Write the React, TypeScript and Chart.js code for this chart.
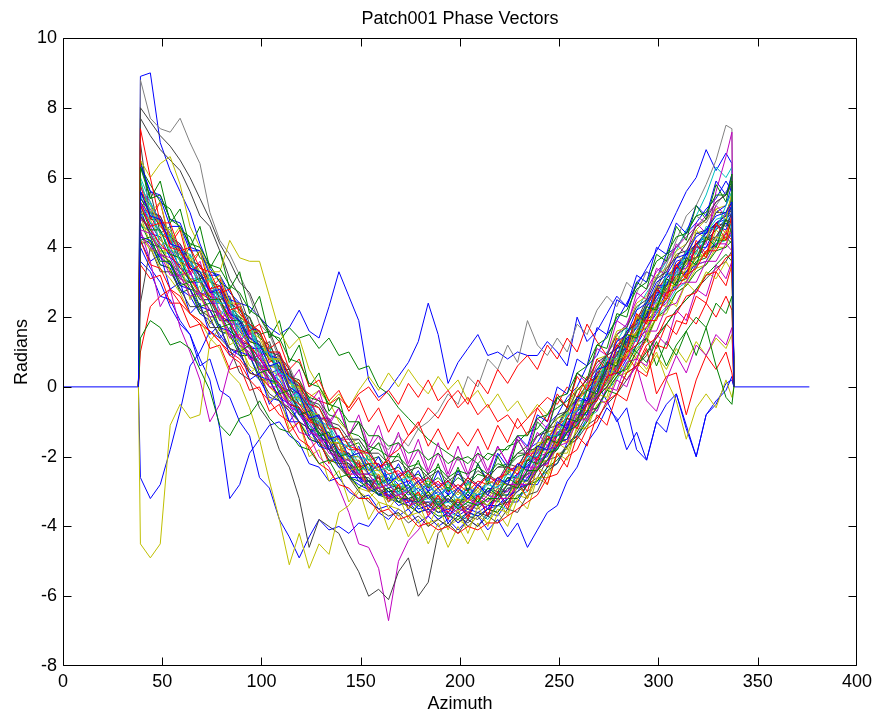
import React, { useEffect, useRef } from "react";
import { Chart, registerables } from "chart.js";

Chart.register(...registerables);

const TITLE = "Patch001 Phase Vectors";
const X_LABEL = "Azimuth";
const Y_LABEL = "Radians";
const X_TICKS = [0, 50, 100, 150, 200, 250, 300, 350, 400];
const Y_TICKS = [-8, -6, -4, -2, 0, 2, 4, 6, 8, 10];

// azimuth samples of the phase vectors
const AZ = [39, 44, 49, 54, 59, 64, 69, 74, 79, 84, 89, 94, 99, 104, 109, 114, 119, 124, 129, 134,
  139, 144, 149, 154, 159, 164, 169, 174, 179, 184, 189, 194, 199, 204, 209, 214, 219, 224, 229, 234,
  239, 244, 249, 254, 259, 264, 269, 274, 279, 284, 289, 294, 299, 304, 309, 314, 319, 324, 329, 334, 337];
// zero values just outside the patch, and the zero line of the full azimuth range
const EDGE_AZ = [38, 338];
const ZERO_LINE_AZ = [0, 376];
const PAD_VALUE = 0;

const B1 = [5.6,4.9,4.8,4.1,4.0,3.4,3.3,2.7,2.8,2.1, 1.9,1.4,1.2,0.6,0.7,0.0,-0.2,-0.9,-0.8,-1.5, -1.4,-2.0,-1.9,-2.5,-2.2,-2.8,-2.5,-3.0,-2.7,-3.2, -2.9,-3.3,-2.9,-3.2,-2.8,-3.1,-2.6,-2.8,-2.2,-2.4, -1.7,-1.8,-1.0,-1.2,-0.3,-0.4,0.5,0.6,1.3,1.5, 2.2,2.4,3.0,3.2,3.7,3.8,4.3,4.5,4.9,5.0, 5.3];
const B2 = [4.2,4.3,3.6,3.6,2.9,3.0,2.3,2.4,1.7,1.8, 1.0,1.2,0.4,0.5,-0.2,-0.1,-0.8,-0.7,-1.4,-1.3, -2.0,-1.9,-2.4,-2.2,-2.8,-2.6,-3.0,-2.8,-3.3,-3.0, -3.4,-3.1,-3.4,-3.0,-3.3,-2.9,-3.1,-2.6,-2.8,-2.1, -2.2,-1.5,-1.6,-0.9,-1.0,-0.1,-0.2,0.7,0.6,1.5, 1.4,2.3,2.2,3.1,2.9,3.7,3.5,4.3,4.0,4.8, 4.4];
const B3 = [7.4,6.0,4.7,4.7,3.9,4.0,3.4,3.3,2.7,2.8, 2.1,1.8,1.6,1.0,1.0,0.3,0.1,-0.5,-0.6,-1.2, -1.2,-1.7,-1.8,-1.9,-2.3,-2.1,-2.6,-2.4,-2.8,-2.6, -2.9,-2.7,-3.0,-2.6,-2.9,-2.5,-2.8,-2.3,-2.5,-1.9, -2.1,-1.4,-1.7,-0.9,-1.2,-0.5,-0.4,0.3,0.4,1.0, 1.2,1.9,1.9,2.7,2.8,3.2,3.4,3.9,3.9,4.4, 4.2];
const B4 = [5.9,5.0,4.4,4.3,3.6,3.6,3.0,3.1,2.4,2.4, 1.7,1.8,1.0,1.0,0.4,0.3,-0.3,-0.5,-1.0,-1.1, -1.6,-1.7,-2.0,-2.1,-2.4,-2.3,-2.7,-2.6,-3.0,-2.8, -3.1,-2.9,-3.2,-3.0,-3.1,-2.8,-2.9,-2.5,-2.6,-2.0, -2.0,-1.4,-1.4,-0.8,-0.7,-0.1,0.1,0.8,0.8,1.6, 1.7,2.4,2.4,3.2,3.2,3.9,3.8,4.6,4.5,5.2, 5.6];
const B5 = [4.5,4.4,3.8,3.7,3.1,2.9,2.6,2.2,2.1,1.5, 1.4,0.8,0.7,0.0,0.0,-0.6,-0.7,-1.3,-1.4,-1.9, -2.0,-2.5,-2.5,-2.9,-2.9,-3.2,-3.1,-3.4,-3.3,-3.6, -3.4,-3.7,-3.5,-3.6,-3.3,-3.5,-3.2,-3.2,-2.8,-2.8, -2.3,-2.2,-1.7,-1.6,-1.0,-0.9,-0.2,0.0,0.6,0.8, 1.4,1.6,2.2,2.4,2.9,3.0,3.5,3.6,4.1,4.1, 4.5];
const B6 = [5.5,5.2,4.6,4.5,3.8,3.7,3.3,3.0,2.8,2.3, 2.1,1.6,1.4,0.8,0.8,0.1,0.0,-0.7,-0.8,-1.4, -1.5,-2.0,-1.9,-2.4,-2.3,-2.8,-2.6,-3.0,-2.7,-3.1, -2.9,-3.3,-3.0,-3.3,-2.9,-3.1,-2.7,-2.8,-2.3,-2.4, -1.8,-1.9,-1.2,-1.3,-0.6,-0.7,0.1,0.1,0.8,0.9, 1.6,1.7,2.4,2.5,3.1,3.2,3.7,3.8,4.3,4.2, 4.6];
const B7 = [2.4,4.0,3.3,3.3,2.8,2.3,2.3,1.7,1.7,1.1, 1.0,0.4,0.3,-0.2,-0.4,-0.7,-1.0,-1.2,-1.6,-1.8, -2.2,-2.2,-2.6,-2.6,-3.0,-2.9,-3.2,-3.2,-3.4,-3.3, -3.6,-3.4,-3.6,-3.4,-3.5,-3.2,-3.3,-2.9,-2.9,-2.4, -2.4,-1.8,-1.7,-1.1,-1.0,-0.4,-0.2,0.5,0.6,1.3, 1.5,2.1,2.3,2.9,3.1,3.6,3.7,4.2,4.3,4.8, 4.7];
const B8 = [6.4,5.6,5.4,4.6,4.6,3.9,3.9,3.2,3.2,2.5, 2.4,1.7,1.6,0.9,0.8,0.2,0.0,-0.6,-0.9,-1.4, -1.9,-2.3,-2.6,-2.8,-3.1,-3.1,-3.4,-3.3,-3.6,-3.5, -3.8,-3.6,-3.9,-3.6,-3.7,-3.5,-3.4,-3.2,-2.9,-2.8, -2.3,-2.2,-1.6,-1.5,-0.8,-0.8,0.1,0.1,1.0,1.1, 1.9,2.0,2.9,2.9,3.6,3.7,4.4,4.4,5.0,5.2, 5.8];
const B9 = [5.2,4.5,4.5,3.8,3.7,3.0,3.1,2.5,2.5,1.9, 1.9,1.3,1.2,0.8,0.6,0.3,0.1,-0.3,-0.4,-0.8, -0.9,-1.3,-1.4,-1.7,-1.8,-2.0,-2.0,-2.3,-2.2,-2.5, -2.3,-2.6,-2.4,-2.5,-2.3,-2.5,-2.2,-2.3,-2.0,-1.9, -1.7,-1.5,-1.4,-1.2,-1.0,-0.7,-0.6,-0.1,-0.2,0.4, 0.6,1.0,1.4,1.8,2.2,2.5,2.8,3.2,3.5,3.8, 3.6];
const B10 = [1.0,2.3,2.6,2.8,2.4,2.1,1.8,1.6,1.3,1.0, 0.8,0.4,0.3,0.0,-0.2,-0.5,-0.6,-1.0,-1.1,-1.4, -1.5,-1.8,-1.8,-2.2,-2.2,-2.5,-2.4,-2.7,-2.6,-2.9, -2.7,-3.0,-2.8,-3.0,-2.7,-2.8,-2.6,-2.5,-2.2,-2.1, -1.7,-1.5,-1.1,-0.9,-0.4,-0.1,0.4,0.7,1.2,1.5, 2.0,2.3,2.8,3.1,3.5,3.8,4.1,4.4,4.7,4.9, 5.3];
const B11 = [6.0,5.3,4.7,4.5,3.9,3.8,3.3,3.2,2.6,2.5, 1.9,1.8,1.1,1.1,0.4,0.3,-0.4,-0.5,-1.2,-1.3, -1.9,-2.0,-2.4,-2.3,-2.8,-2.7,-3.1,-2.9,-3.3,-3.2, -3.4,-3.3,-3.5,-3.3,-3.4,-3.1,-3.3,-2.9,-2.9,-2.4, -2.4,-1.8,-1.8,-1.2,-1.1,-0.5,-0.3,0.5,0.4,1.3, 1.3,2.2,2.2,3.0,3.3,3.8,4.0,4.4,4.8,4.9, 5.4];
const B12 = [4.8,4.6,4.0,3.9,3.2,3.3,2.6,2.8,1.9,2.2, 1.3,1.6,0.9,1.0,0.3,0.4,-0.3,-0.4,-0.9,-0.9, -1.5,-1.5,-1.9,-1.9,-2.3,-2.2,-2.5,-2.4,-2.7,-2.6, -2.8,-2.7,-2.9,-2.7,-2.8,-2.6,-2.7,-2.3,-2.4,-1.9, -1.9,-1.4,-1.6,-1.0,-1.2,-0.5,-0.7,0.0,-0.1,0.7, 0.8,1.6,1.6,2.3,2.4,3.0,3.0,3.6,3.6,4.1, 3.9];
const B13 = [5.0,4.8,4.2,4.0,3.6,3.1,3.0,2.5,2.4,1.9, 1.7,1.1,1.0,0.5,0.3,-0.3,-0.3,-1.0,-1.0,-1.6, -1.6,-2.1,-2.1,-2.5,-2.5,-2.8,-2.8,-3.0,-3.1,-3.2, -3.1,-3.3,-3.2,-3.3,-3.0,-3.2,-2.8,-2.8,-2.3,-2.4, -1.6,-1.6,-0.9,-0.8,-0.1,0.1,0.8,0.9,1.6,1.7, 2.4,2.6,3.2,3.4,3.9,4.1,4.5,4.8,5.1,5.2, 5.6];
const B14 = [7.0,4.8,4.8,4.1,3.9,3.4,3.3,2.7,2.7,2.1, 2.0,1.4,1.3,0.6,0.6,-0.1,-0.2,-0.9,-1.0,-1.6, -1.6,-2.1,-2.2,-2.5,-2.6,-2.8,-2.9,-3.0,-3.2,-3.1, -3.3,-3.2,-3.4,-3.2,-3.3,-3.0,-3.1,-2.8,-2.8,-2.5, -2.4,-2.1,-2.0,-1.7,-1.5,-1.1,-0.9,-0.5,-0.2,0.2, 0.6,0.9,1.5,1.8,2.2,2.5,2.8,3.1,3.4,3.6, 3.9];
const B15 = [5.0,4.4,4.3,3.7,3.5,3.0,3.0,2.4,2.4,1.8, 1.8,1.1,1.1,0.4,0.5,-0.3,-0.3,-0.9,-0.9,-1.5, -1.5,-2.0,-2.0,-2.4,-2.3,-2.7,-2.6,-2.9,-2.7,-3.0, -2.8,-3.1,-2.9,-3.1,-2.8,-3.0,-2.7,-2.7,-2.3,-2.3, -1.8,-1.8,-1.3,-1.2,-0.7,-0.5,-0.1,0.4,0.6,1.2, 1.4,1.9,2.2,2.7,2.9,3.3,3.5,3.9,4.1,4.4, 4.3];
const B16 = [4.1,4.2,3.5,3.4,2.7,2.8,2.1,2.2,1.6,1.5, 0.9,0.9,0.2,0.2,-0.4,-0.6,-1.0,-1.5,-1.6,-2.1, -2.2,-2.6,-2.7,-2.9,-3.1,-3.2,-3.3,-3.4,-3.6,-3.5, -3.7,-3.7,-3.8,-3.6,-3.7,-3.5,-3.6,-3.2,-3.2,-2.8, -2.7,-2.3,-2.1,-1.7,-1.4,-1.0,-0.6,-0.1,0.3,0.6, 1.2,1.4,2.0,2.2,2.7,2.9,3.3,3.5,3.9,4.0, 4.2];
const B17 = [5.3,4.9,4.4,4.2,3.6,3.4,3.0,2.6,2.5,2.0, 1.9,1.3,1.2,0.8,0.5,0.2,0.0,-0.2,-0.4,-0.5, -0.3,-0.6,-0.2,0.0,-0.4,-0.1,-0.5,0.1,-0.3,0.2, -0.4,-0.1,-0.6,-0.3,-0.8,-0.5,-1.0,-0.8,-1.2,-0.9, -0.6,-0.3,-0.5,0.0,-0.3,0.3,0.1,0.7,0.4,1.1, 0.8,1.4,1.1,1.8,1.5,2.1,1.8,2.4,2.0,2.6, 2.2];
const B18 = [4.7,4.4,3.9,3.9,3.3,3.1,2.6,2.7,2.0,2.1, 1.5,1.4,1.0,0.6,0.5,0.1,0.2,-0.3,-0.1,-0.5, -0.2,-0.6,-0.1,0.3,-0.1,0.4,0.0,0.5,0.1,-0.2, 0.3,-0.1,0.2,-0.4,-0.1,-0.6,-0.2,-0.7,-0.4,-0.9, -0.5,-0.8,-0.3,-0.6,0.0,-0.3,0.3,0.0,0.5,0.2, 0.7,0.4,0.9,0.5,1.1,0.7,1.3,0.9,1.4,1.1, 1.5];
const B19 = [5.4,5.0,4.6,4.3,3.9,3.5,3.2,2.8,2.6,2.3, 2.0,1.8,1.5,1.6,1.3,1.7,1.4,1.5,1.1,1.4, 0.9,1.0,0.5,0.6,0.0,-0.2,-0.6,-0.9,-1.2,-1.5, -1.7,-1.9,-2.1,-2.0,-2.2,-1.9,-2.0,-1.7,-1.6,-1.3, -1.2,-0.8,-0.6,-0.4,-0.1,0.2,0.5,0.9,1.1,1.5, 1.9,2.1,2.6,2.8,3.2,3.3,3.7,3.8,4.1,4.3, 4.1];
const B20 = [5.4,5.1,4.6,4.3,3.9,3.4,3.2,2.7,2.5,2.0, 1.7,1.1,0.9,0.4,0.0,-0.4,-0.7,-1.2,-1.5,-1.8, -2.1,-2.3,-2.5,-2.8,-2.9,-3.1,-3.1,-3.3,-3.2,-3.4, -3.3,-3.5,-3.4,-3.5,-3.3,-3.4,-3.1,-3.0,-2.7,-2.5, -2.0,-1.7,-1.2,-0.9,-0.3,0.0,0.6,0.9,1.5,1.8, 2.5,2.8,3.3,3.6,4.0,4.3,4.6,4.9,5.3,5.5, 6.0];
const B21 = [5.5,4.7,4.5,3.9,3.8,3.1,3.1,2.6,2.4,2.2, 1.6,1.6,1.0,0.9,0.3,0.2,-0.5,-0.5,-1.1,-1.2, -1.8,-1.7,-2.2,-2.2,-2.6,-2.5,-2.9,-2.8,-3.1,-3.0, -3.3,-3.1,-3.4,-3.1,-3.3,-2.9,-3.0,-2.6,-2.6,-2.1, -1.9,-1.4,-1.2,-0.7,-0.4,0.1,0.4,1.0,1.3,1.8, 2.2,2.7,3.1,3.6,3.9,4.5,4.9,5.5,6.3,6.0, 6.3];
const B22 = [4.4,3.9,3.9,3.3,3.2,2.6,2.6,2.0,2.0,1.4, 1.2,0.6,0.4,0.0,-0.3,-0.7,-1.0,-1.4,-1.6,-2.0, -2.3,-2.6,-2.9,-3.0,-3.3,-3.4,-3.5,-3.7,-3.6,-3.9, -3.8,-4.0,-3.8,-4.0,-3.7,-3.9,-3.5,-3.6,-3.1,-3.2, -2.6,-2.6,-1.9,-1.9,-1.2,-1.2,-0.5,-0.4,0.3,0.4, 1.1,1.3,2.0,2.1,2.7,2.9,3.4,3.5,4.0,4.0, 4.6];
const B23 = [5.1,4.3,4.0,3.5,3.1,3.0,2.5,2.5,1.9,1.9, 1.3,1.2,0.6,0.5,0.0,-0.2,-0.6,-0.9,-1.4,-1.6, -2.1,-2.2,-2.6,-2.7,-3.0,-3.1,-3.3,-3.4,-3.6,-3.5, -3.8,-3.6,-3.9,-3.7,-3.8,-3.5,-3.6,-3.2,-3.2,-2.8, -2.6,-2.1,-1.8,-1.3,-1.0,-0.5,-0.2,0.4,0.6,1.2, 1.5,2.0,2.3,2.8,3.2,3.5,3.9,4.2,4.5,4.8, 5.1];
const B24 = [4.6,4.5,3.9,3.8,3.2,3.0,2.5,2.5,2.0,1.8, 1.3,1.1,0.6,0.3,-0.1,-0.3,-0.8,-1.1,-1.5,-1.8, -2.1,-2.3,-2.6,-2.7,-3.0,-3.0,-3.3,-3.2,-3.5,-3.4, -3.6,-3.6,-3.7,-3.8,-3.6,-3.8,-3.4,-3.5,-3.1,-3.0, -2.7,-2.4,-2.2,-1.7,-1.5,-0.9,-0.7,-0.1,0.2,0.7, 1.1,1.5,2.0,2.3,2.8,3.0,3.5,3.6,4.1,4.2, 4.4];

const N1 = [6.3,5.4,5.5,4.8,4.6,4.1,4.0,3.5,3.4,2.9, 2.7,2.2,2.0,1.5,1.4,0.8,0.7,0.1,0.0,-0.5, -0.6,-1.0,-1.0,-1.4,-1.4,-1.7,-1.6,-1.9,-1.8,-2.1, -1.9,-2.2,-2.0,-2.2,-1.9,-2.1,-1.8,-1.8,-1.4,-1.4, -0.9,-0.8,-0.3,-0.2,0.4,0.6,1.2,1.4,2.0,2.2, 2.8,3.0,3.6,3.8,4.3,4.4,4.9,5.0,5.5,5.5, 5.9];
const N2 = [4.2,3.5,3.4,2.8,2.6,2.1,1.9,1.6,1.3,0.9, 0.7,0.2,-0.1,-0.4,-0.8,-1.0,-1.5,-1.7,-2.2,-2.4, -2.8,-2.9,-3.2,-3.2,-3.6,-3.5,-3.8,-3.7,-4.0,-3.9, -4.1,-4.0,-4.2,-4.0,-4.1,-3.9,-3.9,-3.7,-3.5,-3.3, -3.1,-2.6,-2.5,-2.0,-1.8,-1.2,-1.0,-0.4,-0.2,0.4, 0.6,1.2,1.4,2.0,2.1,2.6,2.7,3.2,3.3,3.7, 3.8];
const N3 = [5.2,4.6,4.7,4.0,3.9,3.3,3.5,2.8,2.9,2.2, 2.3,1.6,1.8,1.1,1.3,0.5,0.8,0.0,0.2,-0.4, -0.1,-0.7,-0.3,-1.0,-0.6,-1.3,-0.8,-1.4,-1.0,-1.7, -1.2,-1.8,-1.3,-1.7,-1.2,-1.8,-1.1,-1.6,-0.9,-1.4, -0.6,-1.0,-0.2,-0.6,0.3,-0.1,0.8,0.5,1.4,1.1, 2.1,1.8,2.8,2.5,3.5,3.1,4.1,3.7,4.7,4.2, 4.9];
const N4 = [4.4,4.0,3.8,3.2,3.2,2.6,2.7,2.0,2.1,1.4, 1.5,0.8,0.9,0.2,0.4,-0.3,-0.1,-0.7,-0.3,-1.1, -0.6,-1.4,-0.8,-1.7,-1.1,-2.0,-1.3,-2.2,-1.5,-2.4, -1.6,-2.5,-1.7,-2.5,-1.7,-2.4,-1.7,-2.2,-1.5,-2.0, -1.3,-1.7,-1.1,-1.4,-0.7,-1.0,-0.3,-0.5,0.2,0.0, 0.8,0.6,1.5,1.2,2.2,1.9,2.8,2.6,3.5,3.1, 3.6];
const N5 = [5.9,5.0,5.3,4.2,4.6,3.6,3.9,3.0,3.2,2.4, 2.4,1.6,1.6,0.8,0.8,0.0,0.0,-0.8,-0.8,-1.6, -1.6,-2.4,-2.3,-3.0,-2.8,-3.5,-3.1,-3.8,-3.3,-4.0, -3.4,-4.1,-3.5,-4.2,-3.4,-4.0,-3.2,-3.7,-2.8,-3.2, -2.3,-2.5,-1.6,-1.8,-0.8,-1.0,0.1,-0.1,1.0,0.8, 2.0,1.8,2.9,2.7,3.8,3.5,4.5,4.2,5.1,4.8, 5.6];
const N6 = [5.6,5.0,4.9,4.3,4.1,3.6,3.5,3.0,2.9,2.4, 2.2,1.7,1.5,1.0,0.9,0.3,0.2,-0.4,-0.5,-1.0, -1.1,-1.5,-1.5,-1.9,-1.9,-2.2,-2.1,-2.4,-2.3,-2.6, -2.4,-2.7,-2.5,-2.7,-2.4,-2.6,-2.3,-2.3,-1.9,-1.9, -1.4,-1.3,-0.8,-0.7,-0.1,0.2,0.7,0.9,1.5,1.7, 2.3,2.5,3.1,3.3,3.8,3.9,4.4,4.5,5.0,5.0, 5.4];
const N7 = [4.3,4.2,3.7,3.5,2.9,2.8,2.3,2.2,1.7,1.6, 1.0,0.9,0.3,0.2,-0.3,-0.5,-1.0,-1.2,-1.7,-1.8, -2.3,-2.3,-2.7,-2.7,-3.1,-3.0,-3.3,-3.2,-3.5,-3.4, -3.6,-3.5,-3.7,-3.5,-3.6,-3.4,-3.4,-3.1,-3.0,-2.6, -2.4,-1.9,-1.7,-1.2,-0.9,-0.4,-0.1,0.5,0.8,1.4, 1.7,2.3,2.6,3.1,3.4,3.8,4.1,4.4,4.7,4.9, 5.2];
const N8 = [6.5,5.4,5.9,4.7,5.1,4.0,4.6,3.4,3.9,2.8, 3.3,2.1,2.6,1.4,1.9,0.7,1.2,0.0,0.4,-0.7, -0.3,-1.4,-1.0,-1.9,-1.6,-2.3,-1.9,-2.6,-2.1,-2.9, -2.2,-3.0,-2.3,-3.0,-2.2,-2.8,-2.0,-2.5,-1.5,-2.0, -1.0,-1.3,-0.3,-0.6,0.4,0.2,1.2,1.1,2.1,2.0, 3.0,2.8,3.8,3.6,4.6,4.2,5.2,4.8,5.8,5.3, 6.1];
const N9 = [3.5,3.1,3.2,2.4,2.4,1.7,1.8,1.1,1.2,0.5, 0.6,-0.1,0.0,-0.7,-0.5,-1.3,-1.0,-1.8,-1.5,-2.2, -1.9,-2.6,-2.2,-2.9,-2.6,-3.2,-2.8,-3.3,-3.0,-3.5, -3.1,-3.6,-3.2,-3.7,-3.1,-3.7,-3.0,-3.5,-2.7,-3.2, -2.3,-2.8,-1.9,-2.3,-1.4,-1.7,-0.8,-1.1,-0.2,-0.4, 0.5,0.3,1.2,1.1,1.9,1.8,2.6,2.4,3.3,2.9, 3.5];
const N10 = [4.8,5.3,4.0,4.4,3.2,3.8,2.6,3.2,2.0,2.5, 1.3,1.8,0.6,1.2,0.0,0.4,-0.8,-0.3,-1.5,-1.0, -2.1,-1.6,-2.5,-1.9,-2.9,-2.2,-3.1,-2.4,-3.3,-2.6, -3.4,-2.7,-3.5,-2.7,-3.4,-2.6,-3.3,-2.3,-2.9,-1.9, -2.4,-1.3,-1.8,-0.7,-1.1,0.1,-0.3,0.9,0.5,1.7, 1.3,2.5,2.1,3.3,2.8,3.9,3.4,4.5,4.0,5.0, 4.5];
const N11 = [5.3,4.6,4.9,4.0,4.1,3.2,3.6,2.7,2.9,2.0, 2.4,1.4,1.6,0.8,1.0,0.1,0.5,-0.5,-0.1,-1.0, -0.6,-1.4,-1.0,-1.8,-1.4,-2.1,-1.6,-2.3,-1.8,-2.5, -1.9,-2.6,-2.0,-2.6,-1.9,-2.5,-1.7,-2.2,-1.4,-1.8, -0.9,-1.2,-0.3,-0.6,0.4,0.1,1.1,0.9,1.9,1.7, 2.7,2.5,3.4,3.2,4.1,3.8,4.7,4.4,5.2,4.9, 5.5];
const N12 = [4.9,4.1,4.4,3.3,3.6,2.5,2.9,1.8,2.2,1.2, 1.4,0.4,0.6,-0.4,-0.2,-1.2,-1.0,-2.0,-1.8,-2.7, -2.4,-3.3,-2.9,-3.8,-3.3,-4.1,-3.6,-4.3,-3.8,-4.5, -3.9,-4.6,-4.0,-4.5,-3.9,-4.4,-3.6,-4.0,-3.2,-3.5, -2.6,-2.8,-1.9,-2.1,-1.1,-1.2,-0.2,-0.3,0.7,0.5, 1.6,1.4,2.4,2.3,3.2,3.0,3.9,3.7,4.5,4.2, 4.9];
const N13 = [5.1,5.6,4.4,4.6,3.6,4.0,3.1,3.2,2.5,2.6, 1.8,2.0,1.1,1.3,0.5,0.5,-0.2,-0.4,-0.9,-0.9, -1.5,-1.4,-1.9,-1.8,-2.3,-2.1,-2.6,-2.3,-2.7,-2.5, -2.9,-2.6,-2.9,-2.6,-2.8,-2.5,-2.7,-2.2,-2.3,-1.8, -1.8,-1.2,-1.1,-0.6,-0.4,0.1,0.3,0.9,1.1,1.6, 1.9,2.5,2.7,3.2,3.4,3.9,4.0,4.5,4.6,5.0, 5.1];
const N14 = [4.2,3.6,3.8,2.8,3.0,2.1,2.4,1.5,1.8,0.9, 1.1,0.2,0.4,-0.5,-0.1,-1.0,-0.6,-1.4,-1.0,-1.8, -1.4,-2.1,-1.7,-2.4,-2.0,-2.7,-2.2,-2.8,-2.4,-3.0, -2.4,-3.1,-2.4,-3.0,-2.2,-2.7,-1.9,-2.3,-1.4,-1.7, -0.8,-1.0,0.0,-0.2,0.8,0.6,1.7,1.5,2.5,2.3, 3.2,3.0,4.0,3.8,4.7,4.4,5.2,4.9,5.9,5.5, 6.1];
const N15 = [4.7,4.1,4.0,3.5,3.3,2.8,2.7,2.2,2.1,1.6, 1.4,0.9,0.7,0.2,0.1,-0.5,-0.6,-1.2,-1.3,-1.8, -1.9,-2.3,-2.3,-2.7,-2.7,-3.0,-2.9,-3.2,-3.1,-3.4, -3.2,-3.5,-3.3,-3.5,-3.2,-3.4,-3.1,-3.1,-2.7,-2.7, -2.2,-2.1,-1.6,-1.5,-0.9,-0.7,-0.2,0.1,0.6,0.9, 1.5,1.7,2.3,2.5,3.0,3.1,3.6,3.7,4.2,4.2, 4.5];
const N16 = [5.8,4.8,5.3,4.1,4.5,3.4,3.9,2.8,3.1,2.3, 2.4,1.5,1.6,0.7,0.9,-0.1,0.1,-1.0,-0.8,-1.8, -1.6,-2.5,-2.1,-3.0,-2.5,-3.3,-2.8,-3.5,-3.0,-3.7, -3.1,-3.8,-3.2,-3.8,-3.1,-3.7,-3.0,-3.4,-2.6,-3.0, -2.0,-2.3,-1.3,-1.6,-0.5,-0.7,0.3,0.2,1.2,1.0, 2.0,1.9,2.8,2.6,3.5,3.2,4.2,3.8,4.7,4.4, 4.9];

const O1 = [8.9,9.0,7.0,6.2,5.6,5.0,4.1,3.4,3.0,2.2, 1.9,1.2,1.0,0.4,0.2,-0.3,-0.6,-1.1,-1.3,-1.8, -1.9,-2.3,-2.4,-2.7,-2.8,-3.0,-3.0,-3.2,-3.1,-3.4, -3.2,-3.5,-3.3,-3.6,-3.3,-3.5,-3.1,-3.1,-2.6,-2.7, -2.1,-2.0,-1.4,-1.3,-0.6,-0.5,0.3,0.3,1.1,1.2, 2.0,2.1,2.8,2.9,3.5,3.6,4.1,4.3,4.7,4.8, 5.2];
const O2 = [8.8,7.7,7.4,7.3,7.7,7.0,6.4,5.0,4.2,3.8, 3.2,2.6,1.8,1.5,0.8,0.6,-0.1,-0.3,-0.9,-1.2, -1.8,-2.3,-2.4,-2.8,-2.7,-3.1,-3.0,-3.3,-3.1,-3.4, -3.2,-3.5,-3.2,-3.4,-3.1,-3.3,-2.9,-3.0,-2.6,-2.5, -2.2,-1.9,-1.7,-1.2,-1.0,-0.4,-0.2,0.4,0.6,1.2, 1.6,2.3,2.9,3.5,4.2,4.9,5.2,5.8,6.5,7.5, 7.4];
const O3 = [8.0,7.6,7.2,6.9,6.5,6.0,5.4,4.8,4.1,3.6, 3.0,2.7,2.0,1.6,0.9,0.5,-0.2,-0.6,-1.2,-1.6, -2.2,-2.6,-3.0,-3.3,-3.5,-3.7,-3.6,-3.9,-3.7,-4.0, -3.8,-4.0,-3.7,-3.9,-3.6,-3.7,-3.4,-3.3,-3.0,-2.8, -2.4,-2.1,-1.7,-1.3,-0.9,-0.5,0.0,0.6,0.9,1.6, 1.8,2.4,2.8,3.4,3.7,4.1,4.6,4.8,5.3,5.5, 5.8];
const O4 = [7.7,7.2,6.8,6.5,6.2,5.6,4.9,4.6,3.9,3.1, 2.6,1.8,1.6,0.9,0.7,0.0,-0.5,-0.7,-1.3,-1.5, -2.0,-2.1,-2.5,-2.5,-2.9,-2.8,-3.1,-2.9,-3.2,-3.0, -3.3,-3.1,-3.4,-3.1,-3.3,-2.9,-3.0,-2.6,-2.6,-2.1, -2.0,-1.5,-1.4,-0.8,-0.7,-0.1,0.0,0.7,0.7,1.4, 1.5,2.2,2.3,3.0,3.0,3.7,3.7,4.3,4.2,4.8, 4.6];
const O5 = [6.5,6.0,6.4,6.6,5.8,4.6,4.0,3.3,3.3,4.2, 3.7,3.6,3.6,2.6,1.6,1.1,1.4,0.5,0.0,-0.4, -1.0,-1.3,-1.8,-2.0,-2.4,-2.3,-2.7,-2.5,-2.9,-2.7, -3.0,-2.8,-3.1,-2.8,-3.0,-2.7,-2.8,-2.4,-2.4,-1.9, -1.8,-1.3,-1.2,-0.7,-0.5,0.1,0.2,0.8,0.8,1.5, 1.5,2.2,2.2,2.9,2.9,3.4,3.5,3.9,4.0,4.5, 4.4];
const O6 = [-2.6,-3.2,-2.8,-1.8,-0.7,0.6,1.0,1.6,1.4,1.7, 1.2,0.9,0.6,0.2,0.0,-0.5,-0.6,-1.2,-1.4,-1.7, -2.0,-2.2,-2.4,-2.7,-2.6,-2.9,-2.8,-3.1,-2.9,-3.2, -3.0,-3.3,-3.0,-3.2,-2.9,-3.1,-2.7,-2.8,-2.3,-2.4, -1.8,-1.8,-1.1,-1.1,-0.4,-0.4,0.4,0.5,1.1,1.3, 1.9,2.0,2.7,2.7,3.4,3.4,4.0,4.0,4.6,4.5, 5.0];
const O7 = [-4.5,-4.9,-4.5,-1.1,-0.5,-0.9,-0.8,1.3,1.7,1.5, 1.3,0.8,0.7,0.1,0.1,-0.4,-0.3,-0.9,-0.9,-1.5, -1.5,-2.0,-2.0,-2.4,-2.4,-2.8,-2.6,-3.0,-2.8,-3.2, -2.9,-3.3,-2.9,-3.3,-2.8,-3.1,-2.6,-2.8,-2.3,-2.4, -1.7,-1.8,-1.1,-1.2,-0.5,-0.5,0.2,0.2,0.6,0.4, 0.9,0.5,1.0,0.2,-0.4,-1.5,-0.6,-0.2,-0.6,0.2, -0.3];
const O8 = [4.5,3.6,2.3,2.8,1.7,1.0,0.2,-1.0,-0.5,0.6, 1.2,1.0,0.5,0.5,0.0,-0.5,-0.8,-1.0,-1.5,-1.6, -2.1,-2.1,-2.5,-2.5,-2.9,-2.8,-3.1,-3.0,-3.3,-3.1, -3.4,-3.2,-3.5,-3.2,-3.4,-3.1,-3.2,-2.8,-2.8,-2.3, -2.3,-1.8,-1.7,-1.1,-1.0,-0.4,-0.3,0.3,0.4,0.2, 0.6,-0.4,-0.7,0.2,0.9,0.4,1.2,0.9,1.5,1.2, 1.7];
const O9 = [1.4,1.9,1.7,1.2,1.3,1.1,0.5,-0.1,-1.1,-1.4, -0.9,-0.8,-0.4,-0.9,-1.2,-1.3,-1.7,-1.8,-2.2,-2.1, -2.6,-2.5,-2.9,-2.7,-3.1,-2.9,-3.3,-3.0,-3.4,-3.1, -3.5,-3.2,-3.5,-3.3,-3.4,-3.2,-3.2,-2.8,-2.9,-2.4, -2.4,-1.9,-1.8,-1.3,-1.1,-0.7,-0.3,0.0,0.4,0.5, 1.0,0.7,1.3,0.6,1.2,1.6,0.9,1.7,0.6,-0.3, -0.5];
const O10 = [4.0,3.4,3.0,2.3,1.8,1.5,0.8,0.2,-1.2,-3.2, -2.8,-1.9,-1.5,-1.1,-1.0,-1.4,-1.6,-2.2,-2.3,-2.7, -2.6,-3.0,-3.2,-3.1,-3.5,-3.4,-3.7,-3.5,-3.9,-3.7, -4.0,-3.8,-4.1,-3.8,-4.0,-3.6,-3.7,-3.3,-3.3,-2.8, -2.8,-2.3,-2.2,-1.6,-1.4,-0.9,-0.6,-0.1,0.3,0.8, 1.2,1.7,2.1,2.5,3.0,3.3,3.7,4.0,4.3,4.7, 4.5];
const O11 = [3.6,3.3,2.6,2.5,1.9,1.5,0.6,0.8,-0.1,-0.3, -1.0,-1.4,-2.6,-2.9,-3.8,-4.3,-4.9,-4.3,-3.8,-4.1, -4.0,-4.2,-3.9,-4.0,-3.6,-3.8,-3.5,-3.7,-3.4,-3.6, -3.3,-3.9,-3.6,-4.0,-3.7,-4.1,-3.8,-4.3,-3.9,-4.6, -4.1,-3.6,-3.4,-2.7,-2.3,-1.6,-1.2,-0.6,-0.9,-1.8, -1.3,-2.1,-1.0,-0.5,-0.2,-1.2,-2.0,-0.8,-0.5,0.1, 0.2];
const O12 = [4.2,4.0,3.4,3.1,2.7,2.1,1.9,1.4,1.1,0.4, 0.1,-0.6,-1.5,-2.7,-3.8,-5.1,-4.2,-5.2,-4.5,-4.8, -3.6,-3.4,-3.0,-3.2,-2.9,-3.3,-3.1,-3.5,-3.2,-3.6, -3.3,-3.5,-3.2,-3.6,-3.2,-3.4,-2.9,-3.2,-2.6,-2.8, -2.2,-2.1,-1.5,-1.6,-0.9,-0.9,-0.3,0.3,1.5,1.1, 2.1,1.5,2.0,2.6,2.3,3.0,2.7,3.3,3.1,3.6, 3.3];
const O13 = [4.9,4.4,3.8,3.6,3.0,2.8,2.2,2.0,1.4,1.1, 0.4,0.2,-0.6,-1.0,-1.8,-2.3,-3.2,-4.6,-3.8,-4.0, -4.2,-4.8,-5.3,-6.0,-5.8,-6.1,-5.3,-4.9,-6.0,-5.6, -4.2,-3.9,-4.2,-3.8,-4.0,-3.7,-3.9,-3.5,-3.6,-3.1, -3.0,-2.4,-2.2,-1.7,-1.3,-0.8,-0.4,0.2,0.5,1.1, 1.6,2.0,2.6,2.9,3.4,3.6,4.1,4.2,4.7,4.6, 5.0];
const O14 = [5.7,5.3,4.7,4.4,3.8,3.6,3.0,2.8,2.2,1.9, 1.3,1.1,0.5,0.2,-0.3,-0.7,-1.3,-1.4,-2.0,-2.3, -2.9,-3.6,-4.5,-4.6,-5.2,-6.7,-5.0,-4.4,-4.1,-3.7, -3.4,-3.6,-3.3,-3.5,-3.1,-3.3,-2.9,-3.0,-2.5,-2.6, -2.0,-1.9,-1.3,-1.2,-0.6,-0.4,0.2,0.4,1.0,1.1, 1.8,1.9,2.5,2.7,3.3,3.4,4.0,4.1,5.6,6.6, 7.3];
const O15 = [6.3,5.6,5.5,4.8,4.7,4.0,3.9,3.3,3.2,2.7, 2.4,2.3,2.0,1.7,1.5,1.7,2.2,1.6,1.4,2.3, 3.3,2.6,1.9,0.2,-0.3,-0.1,0.3,0.7,1.3,2.4, 1.5,0.1,0.7,1.1,1.5,0.9,1.0,0.8,1.0,0.9, 0.9,1.3,1.0,0.6,2.0,1.3,1.6,2.1,2.6,2.3, 3.0,3.3,3.1,3.8,4.0,4.4,4.7,5.1,5.4,5.9, 5.6];
const O16 = [5.3,4.7,4.2,4.0,3.4,3.3,2.7,2.6,2.0,1.9, 1.3,1.2,0.6,0.6,0.0,-0.1,-0.7,-0.8,-1.4,-1.4, -1.9,-1.9,-2.3,-2.2,-2.6,-2.5,-2.8,-2.7,-3.0,-2.8, -3.1,-2.9,-3.2,-2.9,-3.1,-2.7,-2.8,-2.4,-2.3,-1.8, -1.6,-1.1,-0.8,-0.3,0.0,0.6,0.9,1.5,1.9,2.4, 2.9,3.4,3.9,4.4,5.0,5.6,6.0,6.8,6.2,6.7, 6.4];
const O17 = [4.3,4.1,3.5,3.4,2.8,2.6,2.1,1.9,1.5,1.1, 0.9,0.5,0.2,-0.3,-0.4,-1.0,-1.0,-1.5,-1.6,-2.1, -2.1,-2.6,-2.6,-3.0,-2.9,-3.3,-3.1,-3.5,-3.2,-3.6, -3.3,-3.7,-3.4,-3.7,-3.3,-3.5,-3.0,-3.0,-2.5,-2.2, -1.9,-1.3,-1.2,-0.6,-0.8,-0.5,0.1,-0.4,-1.0,-0.6, -1.8,-2.1,-1.0,-1.3,-0.2,-1.1,-2.0,-0.8,-0.4,-0.1, 0.3];
const O18 = [5.6,5.0,4.7,4.2,4.0,3.5,3.3,2.8,2.6,2.2, 1.9,1.6,1.2,0.9,0.5,0.2,-0.2,-0.6,-0.9,-1.0, -1.5,-1.6,-1.5,-1.9,-1.6,-1.8,-1.4,-1.7,-1.2,-1.0, -0.7,-0.2,-0.5,0.3,0.0,0.8,0.5,1.2,0.7,1.9, 1.2,0.9,1.4,1.0,1.8,1.5,2.2,2.6,2.3,3.0, 2.7,3.3,3.1,3.7,4.0,4.4,4.9,4.7,5.2,5.6, 5.8];
const O19 = [4.9,4.5,4.1,3.8,3.4,3.1,2.7,2.5,2.1,1.8, 1.4,1.2,0.8,0.4,0.1,-0.3,-0.5,-0.9,-1.2,-1.4, -1.8,-1.9,-2.3,-2.2,-2.4,-2.0,-1.8,-1.4,-1.1,-0.6, -0.9,-0.4,-0.1,-0.5,0.2,-0.2,0.5,0.1,0.6,0.9, 0.5,1.2,0.8,1.4,1.0,1.8,1.3,0.9,0.4,0.9, 0.5,1.1,-0.2,0.3,0.4,-0.8,0.2,0.9,0.5,1.0, 0.4];
const O20 = [6.3,5.8,5.3,5.1,4.5,4.3,3.7,3.5,3.0,2.8, 2.2,2.0,1.4,1.2,0.7,0.4,0.0,-0.4,-0.6,-1.1, -1.2,-1.7,-1.6,-2.1,-2.0,-2.4,-2.3,-2.6,-2.5,-2.8, -2.6,-2.9,-2.6,-2.8,-2.5,-2.6,-2.3,-2.2,-1.9,-1.7, -1.4,-1.2,-0.9,-0.7,-0.3,-0.1,0.3,0.6,0.7,1.2, 1.0,1.4,0.6,1.3,0.9,1.6,2.0,1.7,2.4,2.1, 2.6];
// smooth reference curve
const FIT = [5.6,5.2,4.8,4.4,4.0,3.6,3.2,2.8,2.4,2.0, 1.6,1.2,0.8,0.4,0.0,-0.4,-0.8,-1.2,-1.6,-2.0, -2.3,-2.6,-2.8,-2.95,-3.05,-3.15,-3.2,-3.25,-3.3,-3.3, -3.3,-3.3,-3.25,-3.2,-3.1,-3.0,-2.85,-2.7,-2.5,-2.25, -2.0,-1.7,-1.4,-1.05,-0.7,-0.3,0.1,0.5,0.9,1.3, 1.7,2.1,2.5,2.9,3.3,3.6,3.9,4.2,4.5,4.8, 5.0];

const COLORS: Record<string, string> = {
  b: "#0000ff",
  g: "#008000",
  r: "#ff0000",
  c: "#00bfbf",
  m: "#bf00bf",
  y: "#bfbf00",
  k: "#404040",
  gray: "#808080",
};

// draw order and colour code of each series
const SERIES: [number[], string][] = [
  [B1, "b"], [N1, "g"], [O9, "g"], [B2, "g"], [N2, "r"], [B3, "r"], [O3, "k"], [N3, "r"], [B4, "c"],
  [O8, "m"], [N4, "m"], [B5, "m"], [N5, "y"], [B6, "y"], [O12, "y"], [N6, "k"], [B7, "k"], [O5, "y"],
  [N7, "b"], [B8, "b"], [O13, "k"], [N8, "g"], [B9, "g"], [N9, "r"], [B10, "r"], [O19, "r"], [N10, "c"],
  [B11, "c"], [O14, "m"], [N11, "m"], [B12, "m"], [N12, "y"], [B13, "y"], [O7, "y"], [N13, "k"], [B14, "k"],
  [O2, "gray"], [N14, "b"], [B15, "b"], [O4, "k"], [N15, "g"], [B16, "g"], [O20, "g"], [N16, "r"], [B17, "r"],
  [B18, "y"], [O18, "gray"], [B19, "g"], [B20, "m"], [B21, "c"], [B22, "y"], [B23, "k"], [B24, "c"],
  [O10, "b"], [O11, "b"], [O17, "b"], [O15, "b"], [O16, "b"], [O6, "b"], [O1, "b"], [FIT, "b"],
];

const FONT_FAMILY = '"Liberation Sans", Arial, Helvetica, sans-serif';
const FONT_SIZE = 18;

const framePlugin = {
  id: "matlabFrame",
  afterDraw(chart: any) {
    const { ctx, chartArea } = chart;
    const xs = chart.scales.x;
    const ys = chart.scales.y;
    const L = Math.round(chartArea.left) + 0.5;
    const R = Math.round(chartArea.right) - 0.5;
    const T = Math.round(chartArea.top) + 0.5;
    const B = Math.round(chartArea.bottom) - 0.5;
    const clamp = (v: number, a: number, b: number) => Math.min(Math.max(v, a), b);
    ctx.save();
    ctx.strokeStyle = "#000000";
    ctx.lineWidth = 1;
    ctx.beginPath();
    ctx.rect(L, T, R - L, B - T);
    const tl = 8;
    X_TICKS.forEach((v) => {
      const px = clamp(Math.round(xs.getPixelForValue(v)) + 0.5, L, R);
      ctx.moveTo(px, B);
      ctx.lineTo(px, B - tl);
      ctx.moveTo(px, T);
      ctx.lineTo(px, T + tl);
    });
    Y_TICKS.forEach((v) => {
      const py = clamp(Math.round(ys.getPixelForValue(v)) + 0.5, T, B);
      ctx.moveTo(L, py);
      ctx.lineTo(L + tl, py);
      ctx.moveTo(R, py);
      ctx.lineTo(R - tl, py);
    });
    ctx.stroke();
    ctx.fillStyle = "#000000";
    ctx.font = `${FONT_SIZE}px ${FONT_FAMILY}`;
    ctx.textAlign = "center";
    ctx.textBaseline = "middle";
    ctx.fillText(TITLE, (chartArea.left + chartArea.right) / 2, 19);
    ctx.restore();
  },
};

export default function App() {
  const canvasRef = useRef<HTMLCanvasElement | null>(null);

  useEffect(() => {
    if (!canvasRef.current) return;
    const last = SERIES.length - 1;
    const datasets = SERIES.map(([vals, code], i) => {
      const data = [
        { x: EDGE_AZ[0], y: PAD_VALUE },
        ...AZ.map((x, j) => ({ x, y: vals[j] })),
        { x: EDGE_AZ[1], y: PAD_VALUE },
      ];
      if (i === last) {
        data.unshift({ x: ZERO_LINE_AZ[0], y: PAD_VALUE });
        data.push({ x: ZERO_LINE_AZ[1], y: PAD_VALUE });
      }
      return {
        label: `v${i + 1}`,
        data,
        borderColor: COLORS[code],
        backgroundColor: COLORS[code],
        borderWidth: 1,
        pointRadius: 0,
        tension: 0,
        fill: false,
      };
    });
    const font = { family: FONT_FAMILY, size: FONT_SIZE };
    const chart = new Chart(canvasRef.current, {
      type: "line",
      data: { datasets },
      options: {
        animation: false,
        responsive: true,
        maintainAspectRatio: false,
        events: [],
        layout: { padding: { top: 38, right: 20, left: 0, bottom: 0 } },
        plugins: {
          legend: { display: false },
          tooltip: { enabled: false },
          title: { display: false },
        },
        scales: {
          x: {
            type: "linear",
            min: 0,
            max: 400,
            afterBuildTicks: (s: any) => {
              s.ticks = X_TICKS.map((v) => ({ value: v }));
            },
            grid: { display: false, drawTicks: false },
            border: { display: false },
            ticks: { color: "#000", font, padding: 5, maxRotation: 0, autoSkip: false },
            title: { display: true, text: X_LABEL, color: "#000", font, padding: { top: 0, bottom: 2 } },
            afterFit: (s: any) => {
              s.height = 51;
            },
          },
          y: {
            type: "linear",
            min: -8,
            max: 10,
            afterBuildTicks: (s: any) => {
              s.ticks = Y_TICKS.map((v) => ({ value: v }));
            },
            grid: { display: false, drawTicks: false },
            border: { display: false },
            ticks: { color: "#000", font, padding: 6, autoSkip: false },
            title: { display: true, text: Y_LABEL, color: "#000", font, padding: { top: 11, bottom: 0 } },
            afterFit: (s: any) => {
              s.width = 63;
            },
          },
        },
      } as any,
      plugins: [framePlugin],
    });
    return () => chart.destroy();
  }, []);

  return (
    <div style={{ position: "fixed", left: 0, top: 0, width: 877, height: 717, background: "#fff" }}>
      <canvas ref={canvasRef} />
    </div>
  );
}
